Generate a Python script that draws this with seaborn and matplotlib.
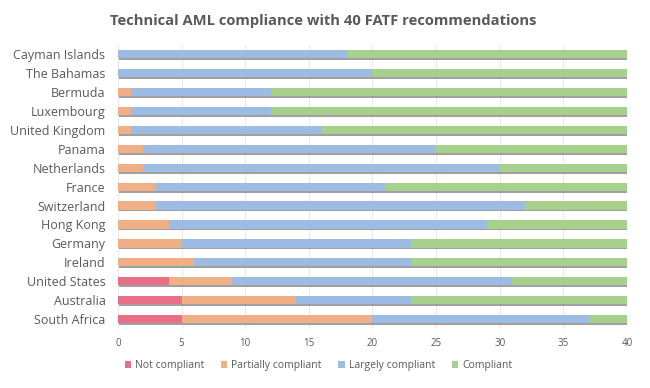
import numpy as np
import pandas as pd
import seaborn as sns
import matplotlib
matplotlib.use('Agg')
import matplotlib.pyplot as plt
from matplotlib.patches import Patch
import matplotlib.patheffects as pe

countries = ['Cayman Islands', 'The Bahamas', 'Bermuda', 'Luxembourg', 'United Kingdom',
             'Panama', 'Netherlands', 'France', 'Switzerland', 'Hong Kong', 'Germany',
             'Ireland', 'United States', 'Australia', 'South Africa']
not_compliant = [0, 0, 0, 0, 0, 0, 0, 0, 0, 0, 0, 0, 4, 5, 5]
partially = [0, 0, 1, 1, 1, 2, 2, 3, 3, 4, 5, 6, 5, 9, 15]
largely = [18, 20, 11, 11, 15, 23, 28, 18, 29, 25, 18, 17, 22, 9, 17]
compliant = [22, 20, 28, 28, 24, 15, 10, 19, 8, 11, 17, 17, 9, 17, 3]

series = ['Not compliant', 'Partially compliant', 'Largely compliant', 'Compliant']
colours = ['#E86F86', '#F0AF84', '#9DBCE4', '#A8D08D']

sns.set_theme(style='white')
plt.rcParams['font.family'] = ['Open Sans', 'DejaVu Sans']

df = pd.DataFrame({'country': countries, 'Not compliant': not_compliant,
                   'Partially compliant': partially, 'Largely compliant': largely,
                   'Compliant': compliant})
# cumulative ends for stacking
cum = df[series].cumsum(axis=1)
cum['country'] = df['country']

fig = plt.figure(figsize=(6.5, 3.88), dpi=100, facecolor='w')
ax = fig.add_axes([0.1815, 0.153, 0.783, 0.732])

for s, c in reversed(list(zip(series, colours))):
    sns.barplot(data=cum, x=s, y='country', color=c, width=0.43, orient='h',
                ax=ax, saturation=1, linewidth=0)
# shadow only under the full-length bars (drawn first)
shadow = [pe.SimplePatchShadow(offset=(0.6, -1.3), shadow_rgbFace='#808080', alpha=0.75), pe.Normal()]
for p in ax.patches[:len(countries)]:
    p.set_path_effects(shadow)

ax.set_xlim(0, 40)
ax.set_xticks(range(0, 41, 5))
ax.set_xlabel('')
ax.set_ylabel('')
ax.grid(axis='x', color='#EAEAEA', linewidth=0.8)
ax.set_axisbelow(True)
for sp in ax.spines.values():
    sp.set_visible(False)
ax.tick_params(axis='x', labelsize=7, colors='#595959', length=0, pad=7)
ax.tick_params(axis='y', labelsize=9, colors='#595959', length=0, pad=9)
ax.set_ylim(len(countries) - 0.5, -0.5)

fig.text(0.497, 0.947, 'Technical AML compliance with 40 FATF recommendations',
         ha='center', va='center', fontsize=10.6, fontweight='bold', color='#595959')

handles = [Patch(facecolor=c, edgecolor='none', label=s) for s, c in zip(series, colours)]
fig.legend(handles=handles, loc='center', bbox_to_anchor=(0.49, 0.058), ncol=4, frameon=False,
           fontsize=7.5, handlelength=0.6, handleheight=0.6, handletextpad=0.4, columnspacing=1.6,
           labelcolor='#595959')

fig.savefig('out.png', dpi=100, facecolor='w')
